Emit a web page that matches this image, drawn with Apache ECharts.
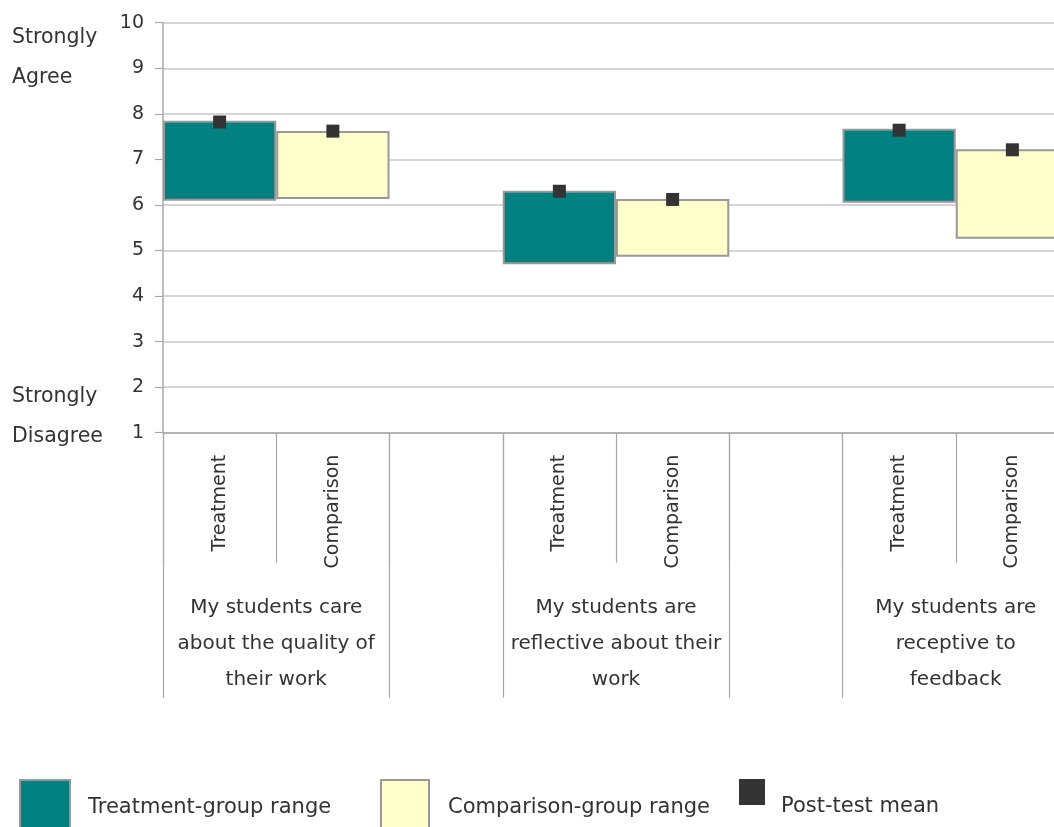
<!DOCTYPE html>
<html>
<head>
<meta charset="utf-8">
<script src="https://cdn.jsdelivr.net/npm/echarts@6/dist/echarts.min.js"></script>
<style>
  html, body { margin: 0; padding: 0; background: #ffffff; }
  #chart { width: 1054px; height: 827px; }
</style>
</head>
<body>
<div id="chart"></div>
<script>
// Slots along the x axis: Treatment / Comparison pairs with an empty spacer between groups
const slotLabels = ['Treatment', 'Comparison', '', 'Treatment', 'Comparison', '', 'Treatment', 'Comparison'];
const groupLabels = [
  'My students care\nabout the quality of\ntheir work',
  'My students are\nreflective about their\nwork',
  'My students are\nreceptive to\nfeedback'
];
const yTicks = [1, 2, 3, 4, 5, 6, 7, 8, 9, 10];

// Range (low..high) of each group's ratings and the post-test mean
const treatmentLow   = [6.09, 4.70, 6.05];
const treatmentHigh  = [7.85, 6.31, 7.67];
const comparisonLow  = [6.13, 4.86, 5.26];
const comparisonHigh = [7.62, 6.13, 7.22];
const treatmentMean  = [7.82, 6.30, 7.64];
const comparisonMean = [7.62, 6.12, 7.21];

const FONT = '"DejaVu Sans", Verdana, sans-serif';
const TEXT = '#333333';
const AXIS = '#a8a8a8';
const GRID = '#c8c8c8';

// Build per-slot arrays for a floating (stacked) range bar
const nSlots = slotLabels.length;
const baseData = new Array(nSlots).fill('-');
const treatData = new Array(nSlots).fill('-');
const compData = new Array(nSlots).fill('-');
const meanData = [];
treatmentLow.forEach((lo, g) => {
  const t = g * 3, c = g * 3 + 1;
  baseData[t] = lo;
  baseData[c] = comparisonLow[g];
  treatData[t] = +(treatmentHigh[g] - lo).toFixed(4);
  compData[c] = +(comparisonHigh[g] - comparisonLow[g]).toFixed(4);
  meanData.push([t, treatmentMean[g]]);
  meanData.push([c, comparisonMean[g]]);
});

// Group boundaries and centres on a 0..nSlots scale
const groupEdges = [0, 2, 3, 5, 6, 8];
const groupCentres = [1, 4, 7];

const chart = echarts.init(document.getElementById('chart'), null, { renderer: 'canvas' });

const option = {
  animation: false,
  backgroundColor: '#ffffff',
  textStyle: { fontFamily: FONT, color: TEXT },
  grid: { left: 163, top: 22.7, width: 906, height: 410, containLabel: false, outerBoundsMode: 'none' },
  xAxis: [
    {
      type: 'category',
      data: slotLabels,
      boundaryGap: true,
      axisLine: { show: true, onZero: false, lineStyle: { color: AXIS, width: 1.5 } },
      axisTick: { show: true, length: 130, alignWithLabel: false, interval: 0, lineStyle: { color: AXIS, width: 1.2 } },
      axisLabel: { rotate: 90, margin: 22, fontSize: 19, color: TEXT, fontFamily: FONT, interval: 0 },
      splitLine: { show: false }
    },
    {
      type: 'value',
      min: 0,
      max: nSlots,
      position: 'bottom',
      axisLine: { show: false, onZero: false },
      axisTick: { show: true, customValues: groupEdges, length: 265, lineStyle: { color: AXIS, width: 1.2 } },
      axisLabel: {
        customValues: groupCentres,
        margin: 157,
        fontSize: 20,
        lineHeight: 36,
        color: TEXT,
        fontFamily: FONT,
        align: 'center',
        formatter: v => groupLabels[groupCentres.indexOf(Math.round(v))] || ''
      },
      splitLine: { show: false }
    }
  ],
  yAxis: {
    type: 'value',
    min: 1,
    max: 10,
    interval: 1,
    axisLine: { show: true, lineStyle: { color: AXIS, width: 1.5 } },
    axisTick: { show: true, length: 8, lineStyle: { color: AXIS, width: 1.2 } },
    axisLabel: { margin: 19, fontSize: 19, color: TEXT, fontFamily: FONT,
      formatter: v => (yTicks.indexOf(v) >= 0 ? String(v) : '') },
    splitLine: { show: true, lineStyle: { color: GRID, width: 1.5 } }
  },
  legend: [
    {
      data: [{ name: 'Treatment-group range', icon: 'rect' }],
      left: 19, top: 779, itemWidth: 50, itemHeight: 55, padding: 0,
      selectedMode: false,
      textStyle: { fontSize: 21, color: TEXT, fontFamily: FONT, padding: [0, 0, 0, 13] }
    },
    {
      data: [{ name: 'Comparison-group range', icon: 'rect' }],
      left: 380, top: 779, itemWidth: 48, itemHeight: 55, padding: 0,
      selectedMode: false,
      textStyle: { fontSize: 21, color: TEXT, fontFamily: FONT, padding: [0, 0, 0, 14] }
    },
    {
      data: [{ name: 'Post-test mean', icon: 'rect' }],
      left: 739, top: 763, itemWidth: 26, itemHeight: 26, padding: 0,
      selectedMode: false,
      formatter: name => '\n' + name,
      textStyle: { fontSize: 21, lineHeight: 29, color: TEXT, fontFamily: FONT, padding: [0, 0, 0, 11] }
    }
  ],
  graphic: [
    {
      type: 'text', left: 12, top: 18,
      style: { text: 'Strongly\nAgree', font: '20.5px ' + FONT, lineHeight: 40, fill: TEXT }
    },
    {
      type: 'text', left: 12, top: 377,
      style: { text: 'Strongly\nDisagree', font: '20.5px ' + FONT, lineHeight: 40, fill: TEXT }
    }
  ],
  series: [
    {
      name: 'base',
      type: 'bar',
      stack: 'range',
      data: baseData,
      barCategoryGap: '0%',
      silent: true,
      itemStyle: { color: 'rgba(0,0,0,0)', borderWidth: 0 }
    },
    {
      name: 'Treatment-group range',
      type: 'bar',
      stack: 'range',
      data: treatData,
      barCategoryGap: '0%',
      itemStyle: { color: '#008080', borderColor: '#999999', borderWidth: 2 }
    },
    {
      name: 'Comparison-group range',
      type: 'bar',
      stack: 'range',
      data: compData,
      barCategoryGap: '0%',
      itemStyle: { color: '#FFFFCC', borderColor: '#999999', borderWidth: 2 }
    },
    {
      name: 'Post-test mean',
      type: 'scatter',
      data: meanData,
      symbol: 'rect',
      symbolSize: 13,
      z: 5,
      itemStyle: { color: '#333333', opacity: 1 }
    }
  ]
};

chart.setOption(option);
</script>
</body>
</html>
